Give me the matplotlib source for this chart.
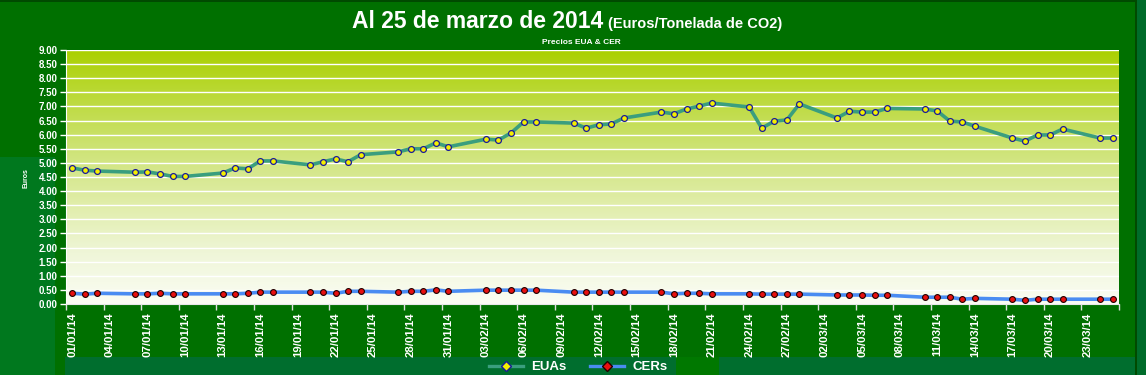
import numpy as np
import matplotlib
matplotlib.use('Agg')
import matplotlib.pyplot as plt
from matplotlib.colors import LinearSegmentedColormap
from matplotlib.patches import Rectangle
from matplotlib.lines import Line2D
import pandas as pd

plt.rcParams['font.family'] = ['Liberation Sans', 'DejaVu Sans']

# ---------------- data ----------------
dates = [
    "01/01/14", "02/01/14", "03/01/14",
    "06/01/14", "07/01/14", "08/01/14", "09/01/14", "10/01/14",
    "13/01/14", "14/01/14", "15/01/14", "16/01/14", "17/01/14",
    "20/01/14", "21/01/14", "22/01/14", "23/01/14", "24/01/14",
    "27/01/14", "28/01/14", "29/01/14", "30/01/14", "31/01/14",
    "03/02/14", "04/02/14", "05/02/14", "06/02/14", "07/02/14",
    "10/02/14", "11/02/14", "12/02/14", "13/02/14", "14/02/14",
    "17/02/14", "18/02/14", "19/02/14", "20/02/14", "21/02/14",
    "24/02/14", "25/02/14", "26/02/14", "27/02/14", "28/02/14",
    "03/03/14", "04/03/14", "05/03/14", "06/03/14", "07/03/14",
    "10/03/14", "11/03/14", "12/03/14", "13/03/14", "14/03/14",
    "17/03/14", "18/03/14", "19/03/14", "20/03/14", "21/03/14",
    "24/03/14", "25/03/14",
]

eua = [
    4.82, 4.74, 4.71,
    4.67, 4.68, 4.61, 4.52, 4.52,
    4.64, 4.82, 4.79, 5.07, 5.07,
    4.93, 5.04, 5.14, 5.04, 5.29,
    5.39, 5.50, 5.50, 5.71, 5.57,
    5.84, 5.81, 6.06, 6.45, 6.45,
    6.41, 6.23, 6.35, 6.38, 6.59,
    6.80, 6.74, 6.91, 7.01, 7.12,
    6.98, 6.23, 6.48, 6.52, 7.09,
    6.59, 6.83, 6.80, 6.80, 6.93,
    6.91, 6.84, 6.48, 6.45, 6.30,
    5.88, 5.77, 5.99, 5.99, 6.20,
    5.88, 5.88,
]

cer = [
    0.38, 0.35, 0.38,
    0.36, 0.36, 0.38, 0.36, 0.36,
    0.36, 0.36, 0.38, 0.42, 0.42,
    0.42, 0.42, 0.38, 0.45, 0.45,
    0.42, 0.45, 0.45, 0.50, 0.45,
    0.49, 0.49, 0.49, 0.49, 0.49,
    0.42, 0.42, 0.42, 0.42, 0.42,
    0.42, 0.36, 0.38, 0.38, 0.36,
    0.36, 0.35, 0.35, 0.35, 0.35,
    0.32, 0.32, 0.32, 0.31, 0.31,
    0.24, 0.24, 0.24, 0.17, 0.20,
    0.17, 0.13, 0.17, 0.17, 0.17,
    0.17, 0.17,
]

tick_labels = [
    "01/01/14", "04/01/14", "07/01/14", "10/01/14", "13/01/14", "16/01/14",
    "19/01/14", "22/01/14", "25/01/14", "28/01/14", "31/01/14", "03/02/14",
    "06/02/14", "09/02/14", "12/02/14", "15/02/14", "18/02/14", "21/02/14",
    "24/02/14", "27/02/14", "02/03/14", "05/03/14", "08/03/14", "11/03/14",
    "14/03/14", "17/03/14", "20/03/14", "23/03/14",
]

series_names = ["EUAs", "CERs"]
title_main = "Al 25 de marzo de 2014"
title_unit = "(Euros/Tonelada de CO2)"
subtitle = "Precios EUA & CER"
ylabel = "Euros"

# ---------------- positions ----------------
start = pd.Timestamp("2014-01-01")
x = np.array([(d - start).days for d in pd.to_datetime(dates, format="%d/%m/%y")])
xt = np.array([(d - start).days for d in pd.to_datetime(tick_labels, format="%d/%m/%y")])
n_days = 84

W, H = 1146, 375
fig = plt.figure(figsize=(W / 100, H / 100), dpi=100, facecolor="#007000")


def px_rect(x0, y0, x1, y1, color, z=-5):
    fig.add_artist(Rectangle((x0 / W, 1 - y1 / H), (x1 - x0) / W, (y1 - y0) / H,
                             transform=fig.transFigure, facecolor=color,
                             edgecolor="none", zorder=z))


# background pieces
px_rect(0, 0, W, 2, "#004a00")
px_rect(0, 157, 55, H, "#00781e")
px_rect(65, 357, 1137, H, "#006e2e")
px_rect(676, 357, 719, H, "#007800")
px_rect(1135, 0, 1137, H, "#004a00")
px_rect(1137, 0, W, H, "#006c2a")

ax = fig.add_axes([66 / W, 1 - 304 / H, (1119 - 66) / W, (304 - 50) / H])
ax.set_facecolor("none")
ax.set_xlim(-0.5, n_days - 0.5)
ax.set_ylim(0, 9)

cmap = LinearSegmentedColormap.from_list("bg", [
    (0.0, "#fbfdf4"), (0.2, "#eff6d8"), (0.4, "#e0eda8"),
    (0.55, "#d3e686"), (0.7, "#c6df5c"), (0.85, "#b9d830"), (1.0, "#aad000")])
grad = np.linspace(0, 1, 256).reshape(-1, 1)
ax.imshow(grad, extent=[-0.5, n_days - 0.5, 0, 9], aspect="auto", cmap=cmap,
          origin="lower", zorder=0)

ax.set_yticks(np.arange(0, 9.01, 0.5))
ax.set_yticklabels([f"{v:.2f}" for v in np.arange(0, 9.01, 0.5)])
ax.grid(axis="y", color="white", lw=1, zorder=1)
ax.set_axisbelow(False)

ax.set_xticks(xt)
ax.set_xticklabels(tick_labels, rotation=90, va="top", ha="center")
ax.set_xticks(np.arange(-0.5, n_days, 3), minor=True)
ax.tick_params(axis="x", which="major", length=0, pad=6, labelsize=8.2,
               labelcolor="white")
ax.tick_params(axis="x", which="minor", length=4, width=1, color="#dddddd")
ax.tick_params(axis="y", length=4, width=1, color="white", labelsize=7,
               labelcolor="white", pad=2)
for lab in ax.get_xticklabels() + ax.get_yticklabels():
    lab.set_fontweight("bold")

for s in ["top", "right"]:
    ax.spines[s].set_visible(False)
ax.spines["left"].set_color("white")
ax.spines["bottom"].set_color("#e8e8e8")

eua_col = "#3a9e7e"
cer_col = "#4a8cf2"
ax.plot(x, eua, color=eua_col, lw=2.6, marker="o", ms=4.2, mfc="#f5ef00",
        mec="#1a1a9a", mew=0.9, zorder=3, clip_on=False)
ax.plot(x, cer, color=cer_col, lw=2.6, marker="o", ms=4.2, mfc="#e81010",
        mec="#200000", mew=0.8, zorder=3, clip_on=False)

# titles
fig.text(352 / W, 1 - 28 / H, title_main, ha="left", va="baseline",
         fontsize=16.5, fontweight="bold", color="white")
fig.text(608 / W, 1 - 28 / H, title_unit, ha="left", va="baseline",
         fontsize=10.5, fontweight="bold", color="white")
fig.text(581 / W, 1 - 43 / H, subtitle, ha="center", va="center",
         fontsize=6, fontweight="bold", color="white")
fig.text(26 / W, 1 - 178 / H, ylabel, ha="center", va="center", rotation=90,
         fontsize=5, fontweight="bold", color="white")

handles = [
    Line2D([], [], color=eua_col, lw=2.4, marker="D", ms=5.5, mfc="#f5ef00",
           mec="#1a1a9a", mew=1),
    Line2D([], [], color=cer_col, lw=2.4, marker="D", ms=5.5, mfc="#e81010",
           mec="#200000", mew=1),
]
fig.legend(handles, series_names, loc="center", bbox_to_anchor=(578 / W, 1 - 367 / H),
           ncol=2, frameon=False, labelcolor="white",
           prop={"weight": "bold", "size": 9.5}, handlelength=2.6,
           handletextpad=0.6, columnspacing=1.8, borderpad=0)

fig.savefig("out.png", dpi=100, facecolor=fig.get_facecolor())
